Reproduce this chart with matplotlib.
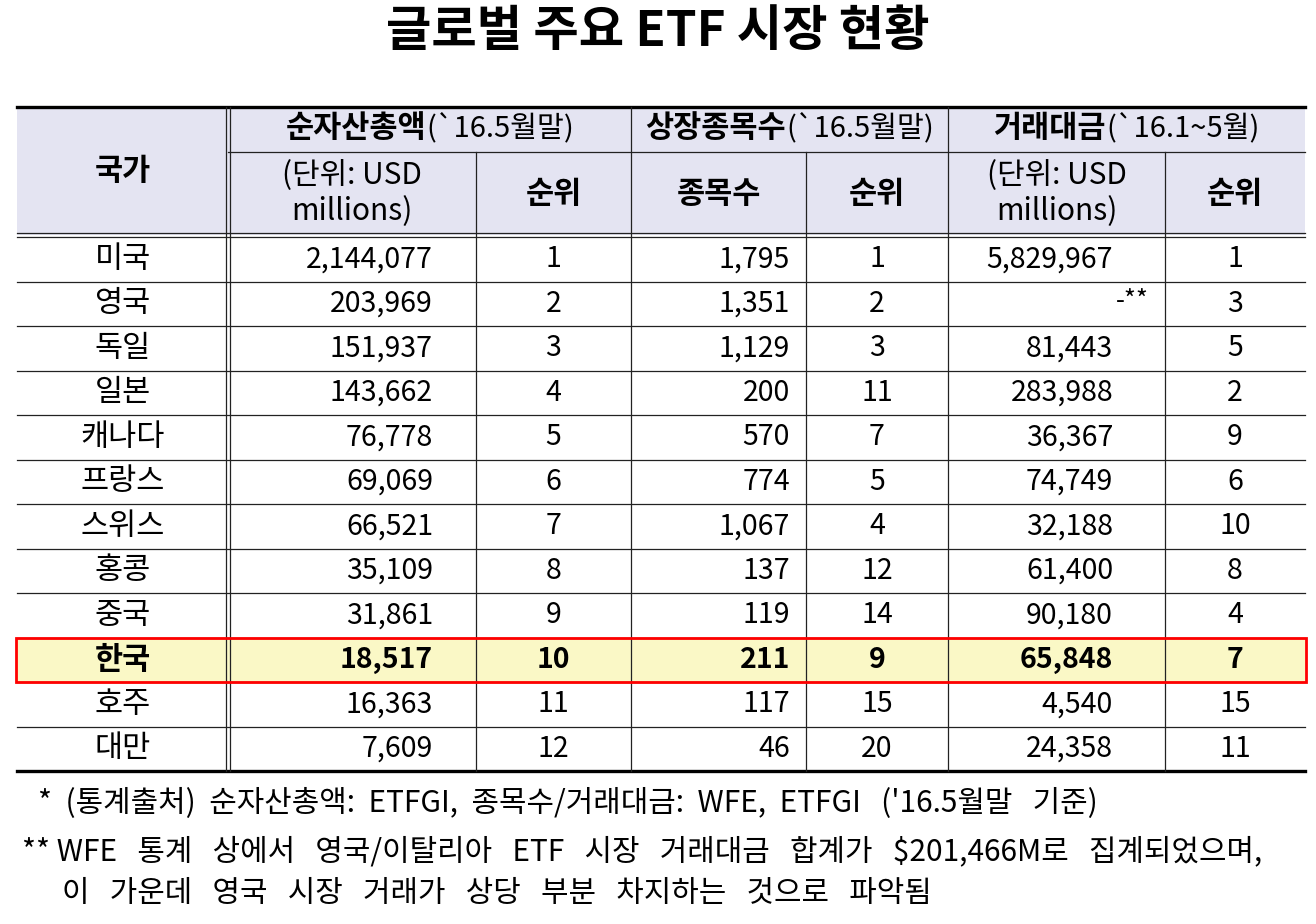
import matplotlib
matplotlib.use("Agg")
import matplotlib.pyplot as plt
from matplotlib.patches import Rectangle

plt.rcParams['font.family'] = ['Noto Sans CJK KR', 'DejaVu Sans']

# ---------------- data ----------------
title = "글로벌 주요 ETF 시장 현황"
countries = ['미국', '영국', '독일', '일본', '캐나다', '프랑스', '스위스', '홍콩', '중국', '한국', '호주', '대만']
aum = [2144077, 203969, 151937, 143662, 76778, 69069, 66521, 35109, 31861, 18517, 16363, 7609]
aum_rank = [1, 2, 3, 4, 5, 6, 7, 8, 9, 10, 11, 12]
listings = [1795, 1351, 1129, 200, 570, 774, 1067, 137, 119, 211, 117, 46]
listing_rank = [1, 2, 3, 11, 7, 5, 4, 12, 14, 9, 15, 20]
turnover = [5829967, None, 81443, 283988, 36367, 74749, 32188, 61400, 90180, 65848, 4540, 24358]
turnover_rank = [1, 3, 5, 2, 9, 6, 10, 8, 4, 7, 15, 11]
highlight = '한국'

group_headers = [
    [("순자산총액", "bold"), ("(`16.5월말)", "normal")],
    [("상장종목수", "bold"), ("(`16.5월말)", "normal")],
    [("거래대금", "bold"), ("(`16.1~5월)", "normal")],
]
sub_headers = [("(단위: USD\nmillions)", "normal"), ("순위", "bold"), ("종목수", "bold"),
               ("순위", "bold"), ("(단위: USD\nmillions)", "normal"), ("순위", "bold")]
footnotes = [
    "*  (통계출처)  순자산총액:  ETFGI,  종목수/거래대금:  WFE,  ETFGI   ('16.5월말   기준)",
    "** WFE   통계   상에서   영국/이탈리아   ETF   시장   거래대금   합계가   $201,466M로   집계되었으며,",
    "이   가운데   영국   시장   거래가   상당   부분   차지하는   것으로   파악됨",
]

# ---------------- layout ----------------
W, H = 1316, 924
fig = plt.figure(figsize=(W / 100, H / 100), dpi=100)
ax = fig.add_axes([0, 0, 1, 1])
ax.set_xlim(0, W)
ax.set_ylim(H, 0)
ax.axis('off')

cols = [17, 228, 476, 631, 806, 948, 1165, 1305]
y_top, y_mid, y_hdr = 107, 152, 235
row_h = 44.5
y_body = 237
n = len(countries)
y_bot = y_body + n * row_h

FK = 22     # korean text
FN = 20.5   # numbers
header_bg = '#E4E4F2'
hl_bg = '#FAF8C6'
line_c = '#222222'

ax.text(W / 2, 31, title, ha='center', va='center', fontsize=35.5, fontweight='bold')

# header background
ax.add_patch(Rectangle((cols[0], y_top), cols[-1] - cols[0], y_hdr - y_top,
                       facecolor=header_bg, edgecolor='none', zorder=0))

# highlight row
hi = countries.index(highlight)
ax.add_patch(Rectangle((cols[0], y_body + hi * row_h), cols[-1] - cols[0], row_h,
                       facecolor=hl_bg, edgecolor='none', zorder=0))

# horizontal lines
ax.plot([cols[0], cols[-1]], [y_top, y_top], color='black', lw=2.4, zorder=3)
ax.plot([cols[1], cols[-1]], [y_mid, y_mid], color=line_c, lw=0.9, zorder=3)
ax.plot([cols[0], cols[-1]], [y_hdr - 2, y_hdr - 2], color=line_c, lw=0.9, zorder=3)
ax.plot([cols[0], cols[-1]], [y_hdr + 2, y_hdr + 2], color=line_c, lw=0.9, zorder=3)
for i in range(1, n):
    y = y_body + i * row_h
    ax.plot([cols[0], cols[-1]], [y, y], color=line_c, lw=0.9, zorder=3)
ax.plot([cols[0], cols[-1]], [y_bot, y_bot], color='black', lw=2.4, zorder=3)

# vertical lines
ax.plot([cols[1] - 2, cols[1] - 2], [y_top, y_bot], color=line_c, lw=0.9, zorder=3)
ax.plot([cols[1] + 2, cols[1] + 2], [y_top, y_bot], color=line_c, lw=0.9, zorder=3)
for j in (3, 5):
    ax.plot([cols[j], cols[j]], [y_top, y_bot], color=line_c, lw=0.9, zorder=3)
for j in (2, 4, 6):
    ax.plot([cols[j], cols[j]], [y_mid, y_bot], color=line_c, lw=0.9, zorder=3)

# red box around highlight row
ax.add_patch(Rectangle((cols[0] - 1, y_body + hi * row_h), cols[-1] - cols[0] + 2, row_h,
                       facecolor='none', edgecolor='#FF0000', lw=2.0, zorder=5))

renderer = fig.canvas.get_renderer()


def mixed(xc, yc, parts):
    arts, widths = [], []
    for s, w in parts:
        fs = FK if w == 'bold' else 21
        t = ax.text(0, yc, s, ha='left', va='center', fontsize=fs, fontweight=w)
        bb = t.get_window_extent(renderer)
        arts.append(t)
        widths.append(bb.width)
    x = xc - sum(widths) / 2
    for t, w in zip(arts, widths):
        t.set_x(x)
        x += w


# headers
ax.text((cols[0] + cols[1]) / 2, (y_top + y_hdr) / 2, "국가", ha='center', va='center',
        fontsize=FK, fontweight='bold')
for g, parts in enumerate(group_headers):
    mixed((cols[1 + 2 * g] + cols[3 + 2 * g]) / 2, (y_top + y_mid) / 2 - 1, parts)
for j, (s, w) in enumerate(sub_headers):
    ax.text((cols[j + 1] + cols[j + 2]) / 2, (y_mid + y_hdr) / 2, s, ha='center', va='center',
            fontsize=(21.5 if w == 'normal' else FK), fontweight=w, linespacing=1.2)

# body
pads = {1: 43, 3: 16, 5: 52}
for i, c in enumerate(countries):
    yc = y_body + (i + 0.5) * row_h
    wt = 'bold' if c == highlight else 'normal'
    ax.text((cols[0] + cols[1]) / 2, yc, c, ha='center', va='center', fontsize=FK, fontweight=wt)
    ax.text(cols[2] - pads[1], yc, f"{aum[i]:,}", ha='right', va='center', fontsize=FN, fontweight=wt)
    ax.text((cols[2] + cols[3]) / 2, yc, str(aum_rank[i]), ha='center', va='center', fontsize=FN, fontweight=wt)
    ax.text(cols[4] - pads[3], yc, f"{listings[i]:,}", ha='right', va='center', fontsize=FN, fontweight=wt)
    ax.text((cols[4] + cols[5]) / 2, yc, str(listing_rank[i]), ha='center', va='center', fontsize=FN, fontweight=wt)
    if turnover[i] is None:
        ax.text(cols[6] - 16, yc - 3, "-**", ha='right', va='center', fontsize=FN - 2, fontweight=wt)
    else:
        ax.text(cols[6] - pads[5], yc, f"{turnover[i]:,}", ha='right', va='center', fontsize=FN, fontweight=wt)
    ax.text((cols[6] + cols[7]) / 2, yc, str(turnover_rank[i]), ha='center', va='center', fontsize=FN, fontweight=wt)

# footnotes
for s, x, y in zip(footnotes, [38, 22, 62], [803, 852, 893]):
    ax.text(x, y, s, ha='left', va='center', fontsize=21.5)

fig.savefig("out.png", dpi=100, facecolor='white')
